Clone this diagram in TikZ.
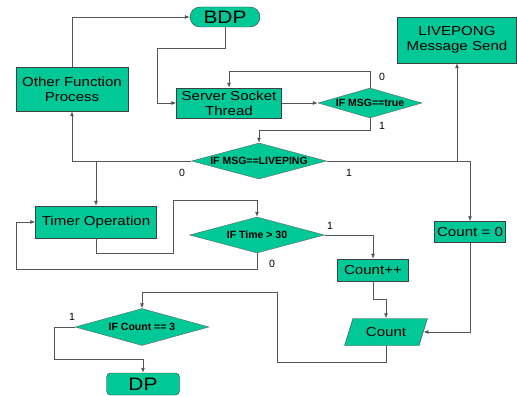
\documentclass[tikz,border=0pt]{standalone}
\usepackage{fontspec}
\setmainfont{Liberation Sans}[FakeStretch=1.16]
\newfontfamily\dfont{Liberation Sans}
\usepackage{tikz}
\usetikzlibrary{shapes.geometric,arrows.meta}
\definecolor{flow green}{RGB}{0,200,150}
\definecolor{flow line}{RGB}{85,85,85}
\tikzset{
	box/.style={draw=black!75, fill=flow green, inner sep=0pt, align=center, font=\fontsize{13}{15}\selectfont},
	term/.style={box, rounded corners=10pt, font=\fontsize{18}{20}\selectfont},
	test/.style={diamond, draw=black!60, fill=flow green, inner sep=0pt, shape aspect=3.7, font=\dfont\bfseries\fontsize{10.5}{12}\selectfont},
	iobox/.style={trapezium, trapezium left angle=61, trapezium right angle=119, trapezium stretches=true, draw=black!75, fill=flow green, inner sep=0pt, font=\fontsize{13}{15}\selectfont},
	flow/.style={draw=flow line, line width=0.8pt, -{Latex[length=5pt,width=4pt]}},
	line/.style={draw=flow line, line width=0.8pt},
	tag/.style={font=\dfont\fontsize{10.5}{12}\selectfont}
}

\begin{document}
\begin{tikzpicture}[x=1pt, y=-1pt]
			\useasboundingbox (0,0) rectangle (517,396);
			% start and end
			\node[term, minimum width=70, minimum height=20] (bdp) at (225,17) {BDP};
			\node[term, rounded corners=4pt, minimum width=73, minimum height=22] (dp) at (143,384) {DP};
			% process boxes
			\node[box, minimum width=112, minimum height=44] (ofp) at (72,89) {Other Function\\Process};
			\node[box, minimum width=105, minimum height=30] (sst) at (229,103) {Server Socket\\Thread};
			\node[box, minimum width=119, minimum height=46] (lps) at (457,40) {LIVEPONG\\Message Send};
			\node[box, minimum width=121, minimum height=32] (tmo) at (96,222) {Timer Operation};
			\node[box, minimum width=71, minimum height=21] (czero) at (470,232) {Count = 0};
			\node[box, minimum width=71, minimum height=22] (cinc) at (373,270) {Count++};
			\node[iobox, minimum width=83, minimum height=27] (cnt) at (386,332) {Count};
			% decisions
			\node[test, minimum width=104, minimum height=30] (mtrue) at (370,103) {IF MSG==true};
			\node[test, minimum width=135, minimum height=36] (mlive) at (259,161) {IF MSG==LIVEPING};
			\node[test, minimum width=135, minimum height=36] (itime) at (257,235) {IF Time > 30};
			\node[test, minimum width=134, minimum height=37] (icnt) at (142,327) {IF Count == 3};
			% flow lines
			\draw[flow] (ofp.north) |- (bdp.west);
			\draw[flow] (bdp.south) |- (157,48) |- (sst.west);
			\draw[flow] (sst.east) -- (mtrue.west);
			\draw[flow] (mtrue.north) -- ++(0,-16) -| (sst.north);
			\draw[flow] (mtrue.south) -- ++(0,12) -| (mlive.north);
			\draw[flow] (mlive.west) -| (ofp.south);
			\draw[flow] (mlive.west -| tmo.north) -- (tmo.north);
			\draw[flow] (mlive.east) -| (czero.north);
			\draw[flow] (mlive.east -| lps.south) -- (lps.south);
			\draw[flow] (tmo.south) |- (173,253) -- (173,200) -| (itime.north);
			\draw[flow] (itime.south) |- (16,269) |- (tmo.west);
			\draw[flow] (itime.east) -| (cinc.north);
			\draw[flow] (cinc.south) -- ++(0,18) -| (cnt.north);
			\draw[flow] (czero.south) |- (cnt.east);
			\draw[flow] (cnt.south) |- (277,362) -- (277,292) -| (icnt.north);
			\draw[flow] (icnt.west) -| (54,359) -| (dp.north);
			% branch labels
			\node[tag] (t1) at (382,77) {0};
			\node[tag] (t2) at (382,126) {1};
			\node[tag] (t3) at (182,173) {0};
			\node[tag] (t4) at (349,173) {1};
			\node[tag] (t5) at (330,226) {1};
			\node[tag] (t6) at (272,264) {0};
			\node[tag] (t7) at (72,317) {1};
\end{tikzpicture}
\end{document}
